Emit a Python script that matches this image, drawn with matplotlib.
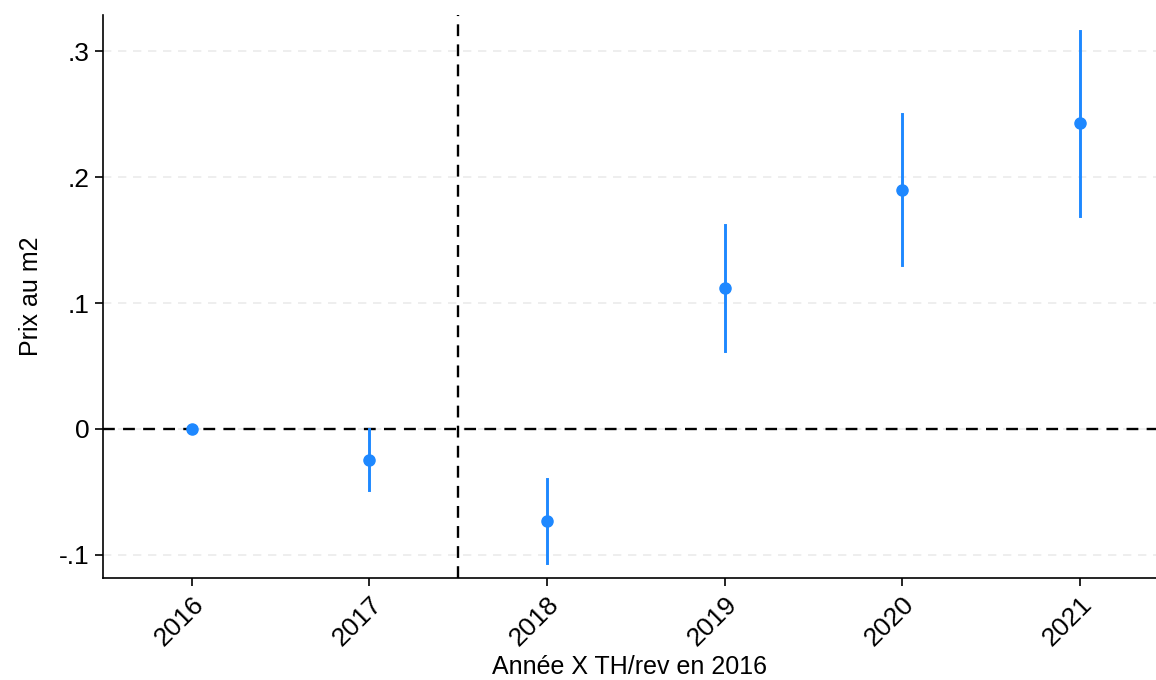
import matplotlib
matplotlib.use("Agg")
import matplotlib.pyplot as plt

years = [2016, 2017, 2018, 2019, 2020, 2021]
coef = [0.0, -0.0247, -0.073, 0.112, 0.190, 0.243]
ci_low = [0.0, -0.0485, -0.1066, 0.062, 0.130, 0.169]
ci_high = [0.0, 0.0, -0.040, 0.162, 0.250, 0.316]
yticks = [-0.1, 0.0, 0.1, 0.2, 0.3]
ytick_labels = ["-.1", "0", ".1", ".2", ".3"]

plt.rcParams['font.family'] = ['Liberation Sans', 'DejaVu Sans']

fig = plt.figure(figsize=(11.56, 6.8), dpi=100)
ax = fig.add_axes([0.0891, 0.15, 0.9109, 0.828])

blue = '#1e88ff'
for x, lo, hi in zip(years, ci_low, ci_high):
    if hi != lo:
        ax.plot([x, x], [lo, hi], color=blue, lw=2.1, zorder=3)
ax.plot(years, coef, 'o', color=blue, markersize=8, zorder=4, linestyle='none')

ax.axhline(0, color='black', lw=1.7, dashes=(5, 3.5), zorder=2)
ax.axvline(2017.5, color='black', lw=1.7, dashes=(5, 3.5), zorder=2)

ax.set_xlim(2015.5, 2021.43)
ax.set_ylim(-0.1185, 0.329)
ax.set_yticks(yticks)
ax.set_yticklabels(ytick_labels)
ax.set_xticks(years)
ax.set_xticklabels([str(y) for y in years], rotation=45, ha='right', rotation_mode='anchor')

ax.yaxis.grid(True, color='#ebebeb', lw=1.2, dashes=(5, 4))
ax.set_axisbelow(True)

for s in ['top', 'right']:
    ax.spines[s].set_visible(False)
for s in ['left', 'bottom']:
    ax.spines[s].set_linewidth(1.2)

ax.tick_params(axis='both', labelsize=19, width=1.2, length=6)
ax.tick_params(axis='x', pad=4)
ax.set_ylabel('Prix au m2', fontsize=18, labelpad=12)
ax.set_xlabel('Année X TH/rev en 2016', fontsize=18, labelpad=3)

fig.savefig('out.png', dpi=100)
